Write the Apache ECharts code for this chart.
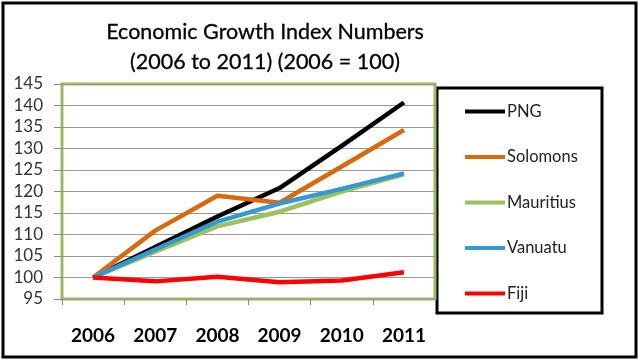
<!DOCTYPE html>
<html><head><meta charset="utf-8">
<script src="https://cdn.jsdelivr.net/npm/echarts@6/dist/echarts.min.js"></script>
<style>html,body{margin:0;padding:0;background:#fff}#c{width:640px;height:361px}</style>
</head><body><div id="c"></div>
<script>
const years = ['2006','2007','2008','2009','2010','2011'];
const seriesNames = ['PNG','Solomons','Mauritius','Vanuatu','Fiji'];
const png = [100, 107.1, 114.2, 120.8, 130.6, 140.7];
const solomons = [100, 110.9, 119.0, 117.4, 125.8, 134.3];
const mauritius = [100, 106.0, 111.9, 115.3, 120.0, 124.0];
const vanuatu = [100, 106.5, 113.0, 117.2, 120.6, 124.2];
const fiji = [100, 99.1, 100.2, 98.9, 99.3, 101.2];
const yTicks = [95,100,105,110,115,120,125,130,135,140,145];
const colors = ['#000000','#D8690F','#9BC25C','#3399D0','#FF0000'];
const values = [png, solomons, mauritius, vanuatu, fiji];

const FONT = 'Lato';
const chart = echarts.init(document.getElementById('c'), null, {renderer:'canvas'});
chart.setOption({
  backgroundColor:'#fff',
  animation:false,
  title:{
    text:'Economic Growth Index Numbers\n(2006 to 2011) (2006 = 100)',
    left:260, top:12, textAlign:'center',
    textStyle:{fontFamily:FONT, fontSize:21.5, fontWeight:'normal', color:'#000', lineHeight:30, textBorderColor:'#000', textBorderWidth:0.3}
  },
  legend:{
    orient:'vertical', left:460, top:98, itemGap:28.5,
    itemWidth:40, itemHeight:4, icon:'rect',
    data:seriesNames,
    textStyle:{fontFamily:FONT, fontSize:16.5, lineHeight:16, color:'#222', padding:[0,0,0,-3]}
  },
  grid:{left:62, top:84, width:373, height:215, show:true, borderColor:'#9BBB59', borderWidth:3, backgroundColor:'transparent'},
  xAxis:{
    type:'category', data:years, boundaryGap:true,
    axisLine:{show:false},
    axisTick:{show:true, length:6, alignWithLabel:false, lineStyle:{color:'#888'}},
    axisLabel:{fontFamily:FONT, fontSize:19, fontWeight:'bold', color:'#000', margin:27}
  },
  yAxis:{
    type:'value', min:yTicks[0], max:yTicks[yTicks.length-1], interval:5,
    axisLine:{show:false},
    axisTick:{show:true, length:8, lineStyle:{color:'#888'}},
    splitLine:{lineStyle:{color:'#999', width:1}},
    axisLabel:{fontFamily:FONT, fontSize:17, color:'#333', margin:19}
  },
  series: seriesNames.map((n,i)=>({
    name:n, type:'line', data:values[i], showSymbol:false, symbol:'none',
    color:colors[i], lineStyle:{width:4.5, color:colors[i]}, z:2+i
  })),
  graphic:[
    {type:'rect', shape:{x:3,y:3,width:633,height:354}, style:{fill:'none', stroke:'#000', lineWidth:3}, z:100},
    {type:'rect', shape:{x:437,y:88,width:165,height:225}, style:{fill:'#fff', stroke:'#000', lineWidth:3}, z:-1}
  ]
});
</script></body></html>
